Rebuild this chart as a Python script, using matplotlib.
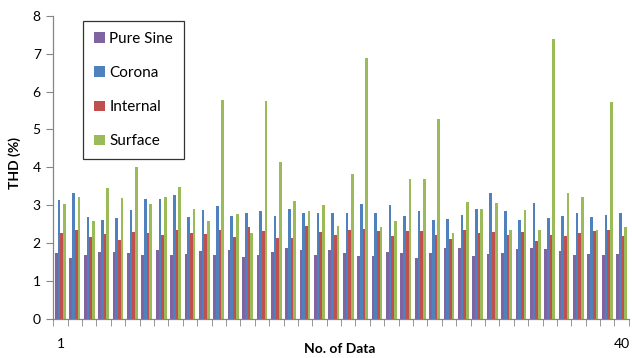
import numpy as np
import matplotlib
matplotlib.use("Agg")
import matplotlib.pyplot as plt
from matplotlib.ticker import FixedLocator

plt.rcParams['font.family'] = ['Lato', 'DejaVu Sans']

# THD (%) for each recorded sample
pure_sine = [1.73, 1.61, 1.69, 1.78, 1.78, 1.73, 1.69, 1.83, 1.69, 1.71,
             1.80, 1.69, 1.83, 1.64, 1.69, 1.78, 1.86, 1.83, 1.69, 1.83,
             1.74, 1.65, 1.65, 1.78, 1.74, 1.61, 1.74, 1.86, 1.86, 1.65,
             1.71, 1.74, 1.85, 1.86, 1.85, 1.80, 1.69, 1.71, 1.69, 1.71]
corona = [3.14, 3.32, 2.69, 2.61, 2.67, 2.87, 3.16, 3.16, 3.27, 2.69,
          2.87, 2.97, 2.73, 2.80, 2.85, 2.72, 2.91, 2.79, 2.79, 2.79,
          2.79, 3.04, 2.80, 3.00, 2.72, 2.85, 2.61, 2.64, 2.74, 2.89,
          3.32, 2.85, 2.61, 3.06, 2.67, 2.72, 2.79, 2.70, 2.74, 2.80]
internal = [2.27, 2.36, 2.16, 2.25, 2.08, 2.29, 2.27, 2.21, 2.36, 2.27,
            2.25, 2.34, 2.16, 2.42, 2.31, 2.14, 2.14, 2.44, 2.29, 2.22,
            2.36, 2.37, 2.31, 2.18, 2.31, 2.31, 2.22, 2.12, 2.34, 2.27,
            2.29, 2.22, 2.29, 2.07, 2.21, 2.18, 2.27, 2.31, 2.34, 2.18]
surface = [3.04, 3.22, 2.58, 3.46, 3.19, 4.01, 3.04, 3.22, 3.49, 2.91,
           2.59, 5.78, 2.76, 2.27, 5.74, 4.15, 3.10, 2.85, 3.02, 2.44,
           3.83, 6.89, 2.42, 2.58, 3.70, 3.70, 5.27, 2.27, 3.09, 2.91,
           3.06, 2.34, 2.87, 2.34, 7.38, 3.32, 3.22, 2.36, 5.72, 2.42]

series = [("Pure Sine", pure_sine, "#8064A2"),
          ("Corona", corona, "#4F81BD"),
          ("Internal", internal, "#C0504D"),
          ("Surface", surface, "#9BBB59")]

n = len(pure_sine)
x = np.arange(1, n + 1)
bw = 0.187

fig = plt.figure(figsize=(6.32, 3.58), dpi=100)
ax = fig.add_axes([0.0843, 0.109, 0.9107, 0.847])

for i, (name, vals, col) in enumerate(series):
    ax.bar(x + (i - 1.5) * bw, vals, width=bw, color=col, label=name,
           linewidth=0)

ax.set_xlim(0.5, n + 0.5)
ax.set_ylim(0, 8)
ax.set_yticks(range(0, 9))

grey = "#868686"
for s in ("top", "right"):
    ax.spines[s].set_visible(False)
for s in ("left", "bottom"):
    ax.spines[s].set_color(grey)
    ax.spines[s].set_linewidth(0.9)

ax.tick_params(axis="y", length=5, color=grey, labelsize=10, pad=4)
ax.set_xticks([1, n])
ax.set_xticklabels(["1", str(n)])
ax.xaxis.set_minor_locator(FixedLocator(np.arange(0.5, n + 1, 1)))
ax.tick_params(axis="x", which="major", length=0, labelsize=10, pad=14)
ax.tick_params(axis="x", which="minor", length=5, color=grey)

fig.text(15 / 632, 1 - 163 / 358, "THD (%)", rotation=90, fontsize=10,
         fontweight="bold", ha="center", va="center")
fig.text(340 / 632, 1 - 349 / 358, "No. of Data", fontsize=10,
         fontweight="bold", ha="center", va="center")

leg = ax.legend(loc="upper left", bbox_to_anchor=(0.0516, 0.983),
                fontsize=11, frameon=True, fancybox=False,
                handlelength=0.7, handleheight=0.7, handletextpad=0.3,
                labelspacing=1.32, borderpad=0.72, borderaxespad=0)
leg.get_frame().set_edgecolor("black")
leg.get_frame().set_linewidth(0.9)

fig.savefig("out.png", dpi=100)
